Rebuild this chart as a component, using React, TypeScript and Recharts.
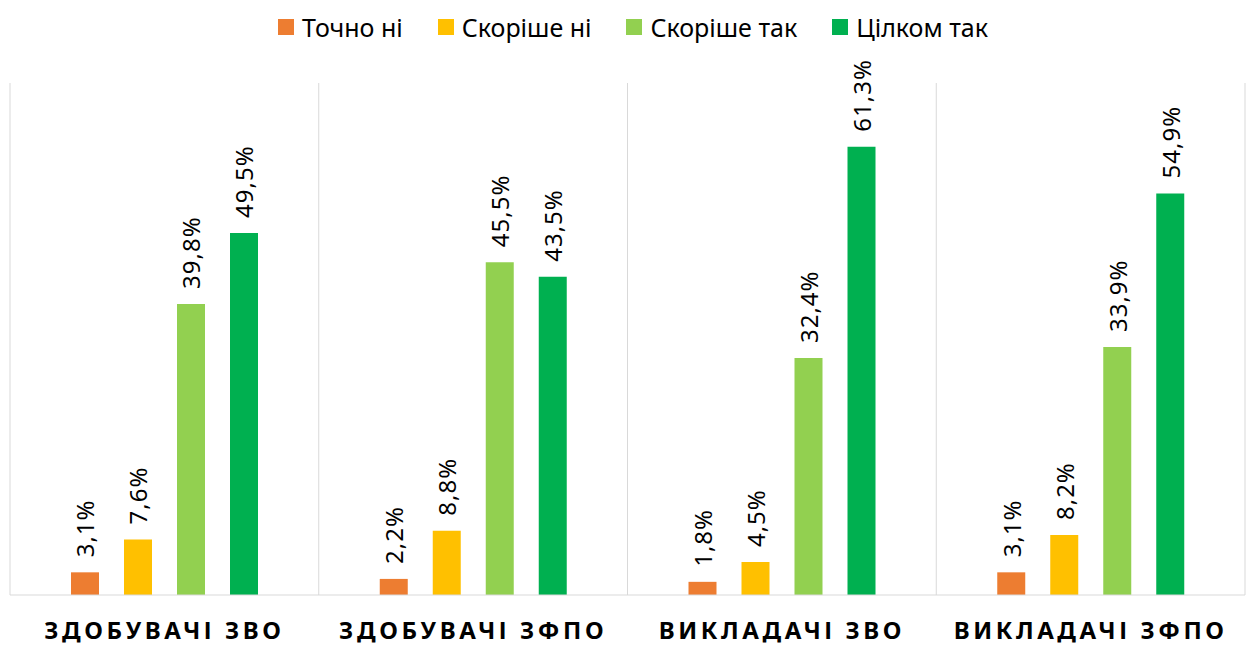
import React from 'react';
import { BarChart, Bar, XAxis, YAxis, CartesianGrid, Legend, LabelList } from 'recharts';

const categories = ['ЗДОБУВАЧІ ЗВО', 'ЗДОБУВАЧІ ЗФПО', 'ВИКЛАДАЧІ ЗВО', 'ВИКЛАДАЧІ ЗФПО'];
const tochnoNi = [3.1, 2.2, 1.8, 3.1];
const skorisheNi = [7.6, 8.8, 4.5, 8.2];
const skorisheTak = [39.8, 45.5, 32.4, 33.9];
const tsilkomTak = [49.5, 43.5, 61.3, 54.9];

const seriesNames = ['Точно ні', 'Скоріше ні', 'Скоріше так', 'Цілком так'];
const seriesColors = ['#ED7D31', '#FFC000', '#92D050', '#00B050'];
const seriesValues = [tochnoNi, skorisheNi, skorisheTak, tsilkomTak];

const data = categories.map((c, i) => ({
  name: c,
  s0: tochnoNi[i],
  s1: skorisheNi[i],
  s2: skorisheTak[i],
  s3: tsilkomTak[i],
}));

const FONT = "'Noto Sans', sans-serif";

const fmt = (v: number) => v.toFixed(1).replace('.', ',') + '%';

const renderLabel = (props: any) => {
  const { x, y, width, value } = props;
  const cx = Number(x) + Number(width) / 2;
  const ty = Number(y) - 15;
  return (
    <text
      x={cx}
      y={ty}
      transform={`rotate(-90, ${cx}, ${ty})`}
      textAnchor="start"
      dominantBaseline="central"
      fontFamily={FONT}
      fontSize={24}
      letterSpacing={1}
      fill="#000"
    >
      {fmt(Number(value))}
    </text>
  );
};

const renderTick = (props: any) => {
  const { x, y, payload } = props;
  return (
    <text
      x={x}
      y={Number(y) + 36}
      textAnchor="middle"
      fontFamily={FONT}
      fontSize={24}
      fontWeight={700}
      letterSpacing={3.6}
      fill="#000"
    >
      {payload.value}
    </text>
  );
};

const renderLegend = (props: any) => {
  const payload = [...(props.payload || [])].sort(
    (a: any, b: any) => seriesNames.indexOf(a.value) - seriesNames.indexOf(b.value)
  );
  return (
    <div
      style={{
        display: 'flex',
        justifyContent: 'center',
        alignItems: 'center',
        gap: 35,
        paddingLeft: 20,
        fontFamily: FONT,
        fontSize: 25,
        lineHeight: '30px',
        color: '#000',
      }}
    >
      {payload.map((p: any) => (
        <div key={p.value} style={{ display: 'flex', alignItems: 'center' }}>
          <span style={{ display: 'inline-block', width: 16, height: 16, background: p.color, marginRight: 8 }} />
          <span>{p.value}</span>
        </div>
      ))}
    </div>
  );
};

export default function App() {
  return (
    <div style={{ position: 'absolute', left: 0, top: 0, width: 1246, height: 646, background: '#fff' }}>
      <BarChart
        width={1246}
        height={646}
        data={data}
        margin={{ top: 83, right: 1, bottom: 0, left: 10 }}
        barSize={28}
        barGap={25}
      >
        <CartesianGrid
          horizontal={false}
          vertical={true}
          stroke="#d9d9d9"
          strokeWidth={1}
          verticalCoordinatesGenerator={({ offset }: any) => {
            const n = categories.length;
            const arr: number[] = [];
            for (let i = 0; i <= n; i++) arr.push(offset.left + (i * offset.width) / n);
            return arr;
          }}
        />
        <XAxis
          dataKey="name"
          height={51}
          axisLine={{ stroke: '#d9d9d9', strokeWidth: 1 }}
          tickLine={false}
          tick={renderTick}
          interval={0}
        />
        <YAxis hide domain={[0, 70]} />
        <Legend
          layout="horizontal"
          verticalAlign="middle"
          align="center"
          itemSorter={null}
          wrapperStyle={{ top: 12, left: 0, width: 1246 }}
          content={renderLegend}
        />
        {seriesValues.map((_, k) => (
          <Bar
            key={k}
            dataKey={`s${k}`}
            name={seriesNames[k]}
            fill={seriesColors[k]}
            isAnimationActive={false}
          >
            <LabelList dataKey={`s${k}`} content={renderLabel} />
          </Bar>
        ))}
      </BarChart>
    </div>
  );
}
